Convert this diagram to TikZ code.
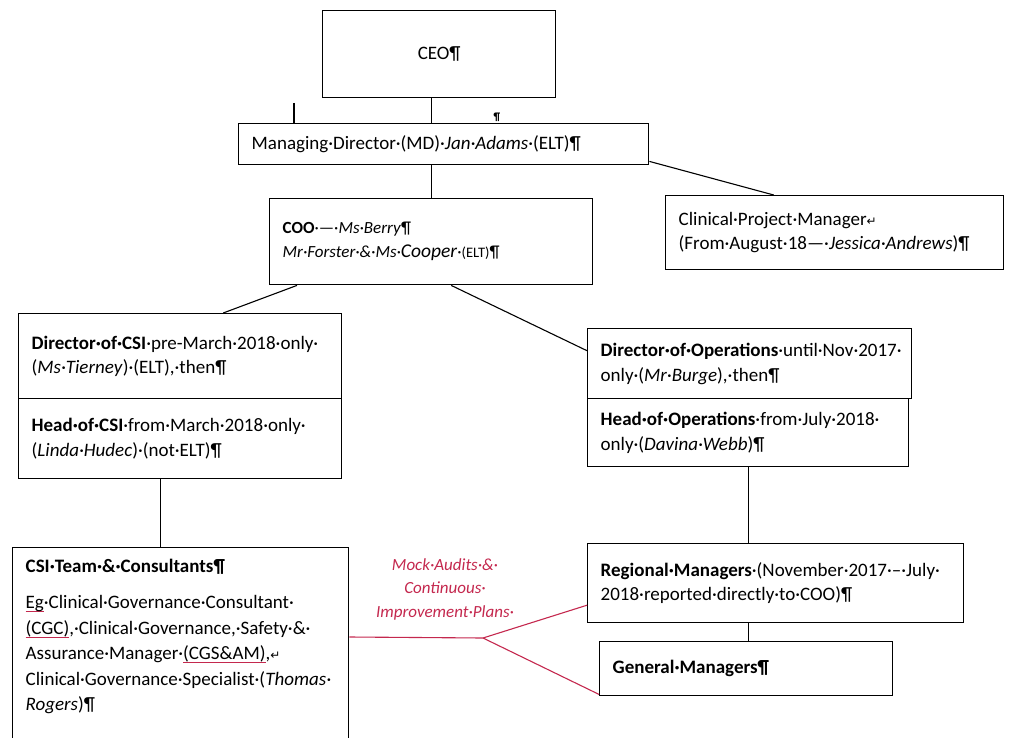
\documentclass[tikz,border=0pt]{standalone}
\usepackage{fontspec}
\setmainfont{Carlito}
\newfontfamily\arrowfont{DejaVu Sans}
\definecolor{markred}{RGB}{196,40,78}
\newsavebox{\spellbox}
\newcommand{\retmark}{{\arrowfont\fontsize{12}{12}\selectfont ↵}}
\newcommand{\spell}[1]{\leavevmode\sbox{\spellbox}{#1}\rlap{\textcolor{markred}{\rule[-3.5pt]{\wd\spellbox}{0.8pt}}}\usebox{\spellbox}}

\begin{document}
\begin{tikzpicture}[x=1pt,y=-1pt,font=\fontsize{19}{24.5}\selectfont]
\tikzstyle{box}=[draw,line width=1.4pt,anchor=north west,align=left,inner xsep=13pt,inner ysep=4pt];
\tikzstyle{link}=[line width=1.1pt];
\tikzstyle{redlink}=[line width=1.1pt,draw=markred];
\useasboundingbox (0,0) rectangle (1011,738);
\clip (0,0) rectangle (1011,738);
\node [box,align=center,text width=207pt,minimum height=87pt] (v1) at (322,10) {CEO¶};
\node [box,text width=384pt,minimum height=41pt] (v2) at (238,123) {Managing·Director·(MD)·\textit{Jan·Adams}·(ELT)¶};
\node [box,text width=297pt,minimum height=86pt,font=\fontsize{17}{24}\selectfont] (v3) at (269,198)
  {\textbf{COO}·—·\textit{Ms·Berry}¶\\\textit{Mr·Forster·\&·Ms·{\fontsize{19.5}{24}\selectfont Cooper}}·{\fontsize{14.5}{24}\selectfont(ELT)}¶};
\node [box,text width=312pt,minimum height=74pt] (v4) at (665,195)
  {Clinical·Project·Manager\retmark\\(From·August·18—·\textit{Jessica·Andrews})¶};
\node [box,text width=297pt,minimum height=85pt] (v5) at (18,313)
  {\textbf{Director·of·CSI}·pre-March·2018·only·\\(\textit{Ms·Tierney})·(ELT),·then¶};
\node [box,text width=297pt,minimum height=80pt] (v6) at (18,398)
  {\textbf{Head·of·CSI}·from·March·2018·only·\\(\textit{Linda·Hudec})·(not·ELT)¶};
\node [box,text width=298pt,minimum height=70pt] (v7) at (587,328)
  {\textbf{Director·of·Operations}·until·Nov·2017·\\only·(\textit{Mr·Burge}),·then¶};
\node [box,text width=295pt,minimum height=68pt] (v8) at (587,398)
  {\textbf{Head·of·Operations}·from·July·2018·\\only·(\textit{Davina·Webb})¶};
\node [box,text width=310pt,inner ysep=11pt,text depth=200pt,font=\fontsize{19}{25.5}\selectfont] (v9) at (12,547)
  {\textbf{CSI·Team·\&·Consultants¶}\\[11pt]\spell{Eg}·Clinical·Governance·Consultant·\\\spell{(CGC)},·Clinical·Governance,·Safety·\&·\\Assurance·Manager·\spell{(CGS\&AM)},\retmark\\Clinical·Governance·Specialist·(\textit{Thomas·}\\\textit{Rogers})¶};
\node [box,text width=350pt,minimum height=79pt] (v10) at (587,543)
  {\textbf{Regional·Managers}·(November·2017·–·July·\\2018·reported·directly·to·COO)¶};
\node [box,text width=267pt,minimum height=54pt] (v11) at (599,641) {\textbf{General·Managers¶}};
\node [font=\fontsize{17}{23.5}\selectfont\itshape,text=markred,align=center] (v12) at (445,589)
  {Mock·Audits·\&·\\Continuous·\\Improvement·Plans·};
\node [font=\fontsize{11}{11}\selectfont\bfseries,inner sep=0pt] (v13) at (497,117) {¶};
\coordinate (c1) at (294,103);
\coordinate (c2) at (483,638);
\draw [link] (v1.south -| v3.north) -- (v2.north -| v3.north);
\draw [link] (v2.south -| v3.north) -- (v3.north);
\draw [link] (c1) -- (c1 |- v2.north);
\draw [link] ([yshift=4pt]v2.south east) -- ([xshift=-61pt]v4.north);
\draw [link] ([xshift=28pt]v3.south west) -- ([xshift=43pt]v5.north);
\draw [link] ([xshift=20pt]v3.south) -- ([yshift=13pt]v7.west);
\draw [link] ([xshift=-20pt]v6.south) -- ([xshift=-20pt]v6.south |- v9.north);
\draw [link] (v8.south) -- (v8.south |- v10.north);
\draw [link] (v8.south |- v10.south) -- (v8.south |- v11.north);
\draw [redlink] ([yshift=-90pt]v9.north east) -- (c2) -- ([yshift=-22pt]v10.west);
\draw [redlink] (c2) -- ([yshift=2pt]v11.south west);
\end{tikzpicture}
\end{document}
